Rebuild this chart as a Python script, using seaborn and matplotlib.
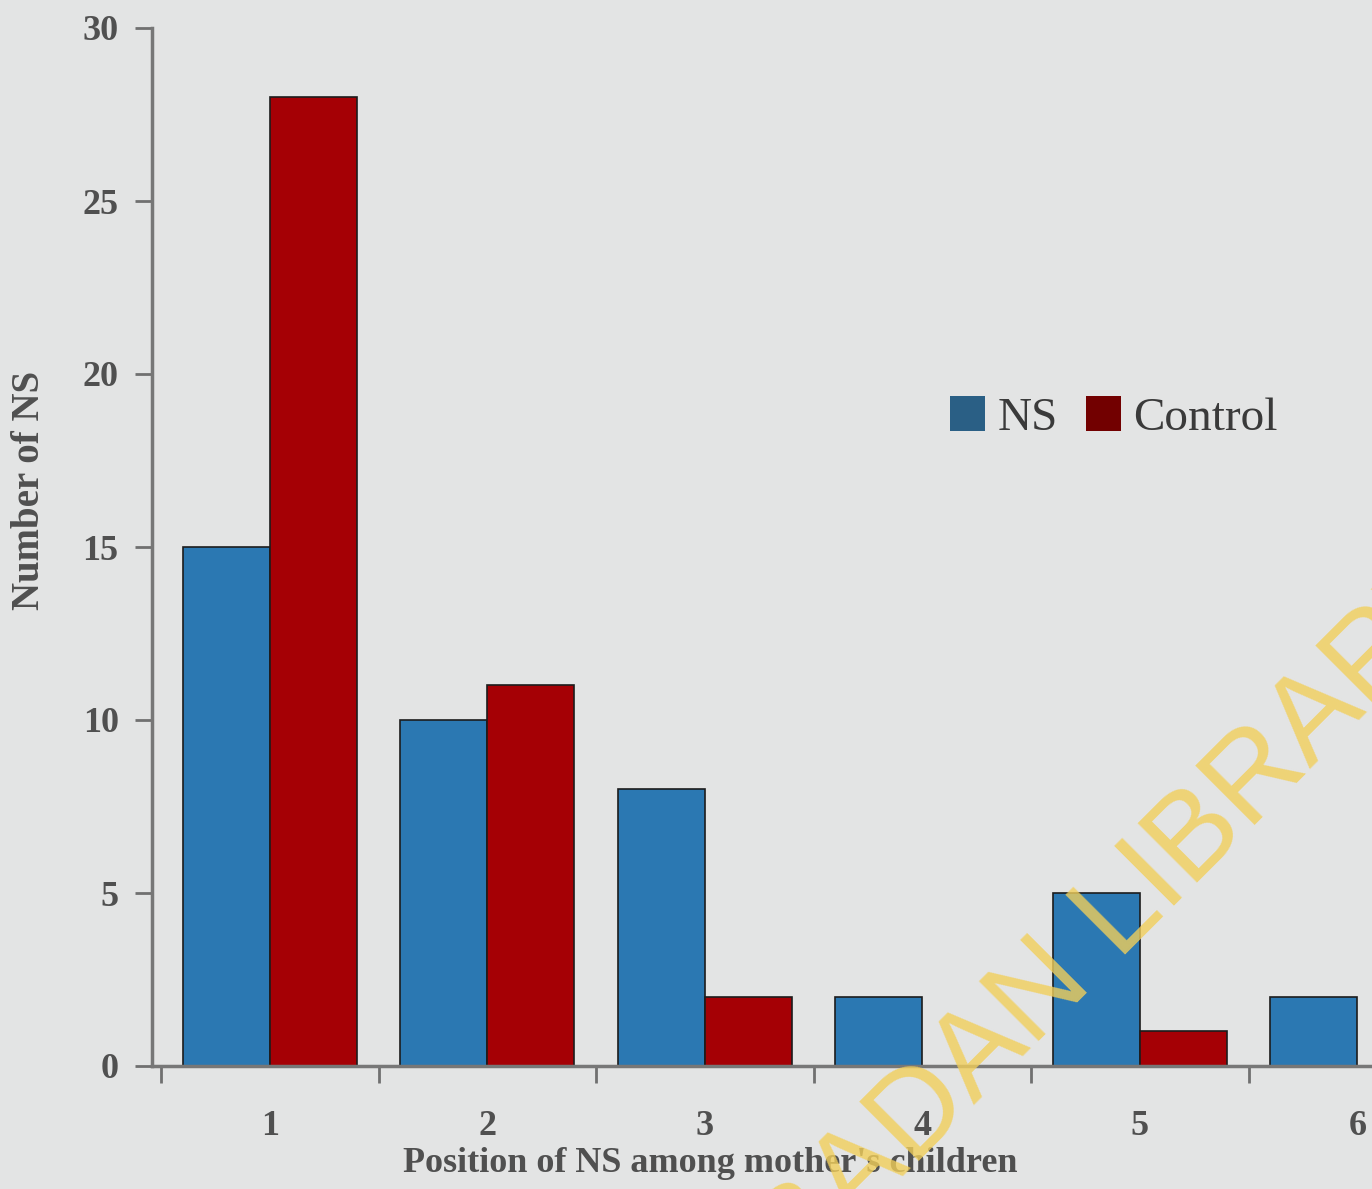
import matplotlib
matplotlib.use("Agg")
import matplotlib.pyplot as plt
from matplotlib.patches import Patch
import seaborn as sns
import pandas as pd
import numpy as np

# Birth position of NS cases vs controls
positions = ["1", "2", "3", "4", "5", "6"]
ns_counts = [15, 10, 8, 2, 5, 2]
control_counts = [28, 11, 2, 0, 1, 0]
groups = ["NS", "Control"]
y_ticks = [0, 5, 10, 15, 20, 25, 30]

df = pd.DataFrame({
    "position": positions * 2,
    "count": ns_counts + control_counts,
    "group": ["NS"] * len(positions) + ["Control"] * len(positions),
})

bg = "#e3e4e4"
txt = "#505050"
bar_colors = {"NS": "#2b78b2", "Control": "#a50005"}
legend_colors = {"NS": "#2a5f85", "Control": "#720000"}

sns.set_style("ticks")
plt.rcParams["font.family"] = ["Liberation Serif", "DejaVu Serif"]

W, H = 1372, 1189
fig = plt.figure(figsize=(W / 100, H / 100), dpi=100, facecolor=bg)
ax = fig.add_axes([152 / W, 1 - 1066 / H, 1 - 152 / W, (1066 - 28) / H])
ax.set_facecolor(bg)

sns.barplot(data=df, x="position", y="count", hue="group", hue_order=groups,
            order=positions, palette=bar_colors, width=0.8, saturation=1,
            edgecolor="#1c1c1c", linewidth=1.2, ax=ax, legend=False)

ax.set_yticks(y_ticks)
ax.set_yticklabels([str(v) for v in y_ticks], fontsize=26, fontweight="bold", color=txt)
ax.set_xticks(range(len(positions)))
ax.set_xticklabels(positions, fontsize=26, fontweight="bold", color=txt)
ax.set_xticks(np.arange(-0.5, len(positions), 1.0), minor=True)
ax.tick_params(axis="x", which="major", length=0, pad=32)
ax.tick_params(axis="x", which="minor", length=12, width=2, color="#707070", direction="out")
ax.tick_params(axis="y", which="major", length=12, width=2, color="#707070", pad=12)
# the last group runs off the right-hand edge
ax.set_xlim(-0.5425, 5.067)
ax.set_ylim(0, 30)

for side in ["top", "right"]:
    ax.spines[side].set_visible(False)
for side in ["left", "bottom"]:
    ax.spines[side].set_color("#777777")
    ax.spines[side].set_linewidth(2.5)

ax.set_xlabel("")
ax.set_ylabel("")
fig.text(30 / W, 1 - 490 / H, "Number of NS", rotation=90, ha="center", va="center",
         fontsize=28, fontweight="bold", color=txt)
fig.text(710 / W, 1 - 1163 / H, "Position of NS among mother's children",
         ha="center", va="center", fontsize=26, fontweight="bold", color=txt)

handles = [Patch(facecolor=legend_colors[g], edgecolor="none", label=g) for g in groups]
fig.legend(handles=handles, loc="center left", bbox_to_anchor=(950 / W, 1 - 418 / H),
           ncol=2, frameon=False, fontsize=34, handlelength=0.75, handleheight=0.75,
           handletextpad=0.25, columnspacing=0.6, borderpad=0, borderaxespad=0,
           labelcolor="#3a3a3a")

# library watermark
fig.text(1130 / W, 1 - 950 / H, "IBADAN LIBRARY", rotation=45, rotation_mode="anchor",
         ha="center", va="baseline", fontsize=88, color="#f2cf5a", alpha=0.8,
         family=["Liberation Sans", "DejaVu Sans"], zorder=10)

fig.savefig("out.png", dpi=100, facecolor=bg)
